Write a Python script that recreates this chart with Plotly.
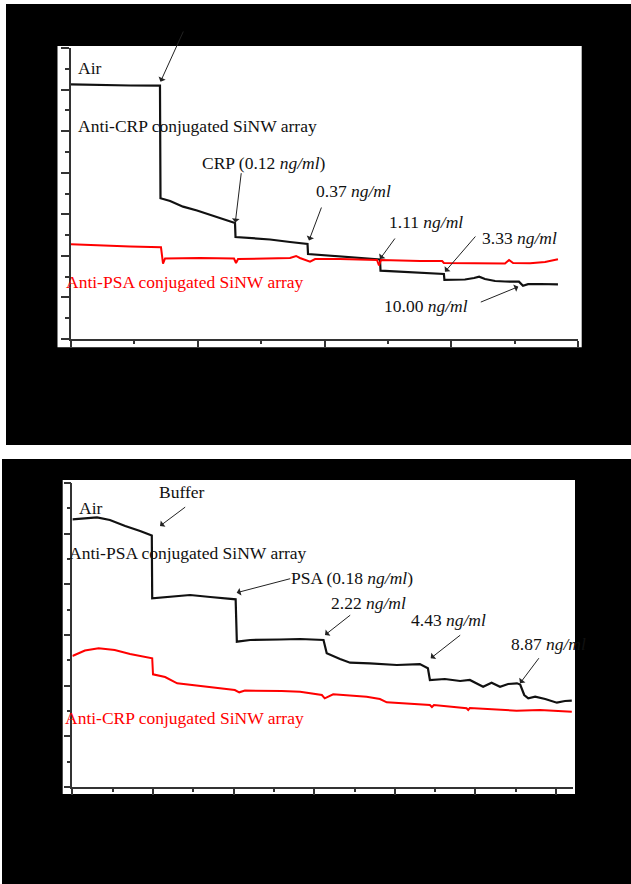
import plotly.graph_objects as go

# ---------------- DATA ----------------
# Top panel: CRP detection (time in s, response in a.u.)
crp_time = [0, 114, 233, 351, 353, 391, 442, 497, 548, 596, 647, 649, 706, 785, 864, 933, 935,
            1022, 1101, 1160, 1219, 1221, 1298, 1377, 1471, 1473, 1554, 1590, 1610, 1633, 1673,
            1712, 1767, 1783, 1803, 1850, 1921]
crp_antiCRP = [6.127, 6.110, 6.098, 6.093, 3.385, 3.320, 3.183, 3.091, 2.983, 2.887, 2.791, 2.454,
               2.430, 2.394, 2.333, 2.285, 2.045, 2.009, 1.973, 1.949, 1.912, 1.643, 1.624, 1.600,
               1.564, 1.424, 1.431, 1.467, 1.499, 1.443, 1.395, 1.383, 1.378, 1.282, 1.318, 1.323,
               1.316]
crp_time_ref = [0, 114, 233, 355, 359, 363, 371, 509, 643, 651, 659, 746, 864, 888, 903, 943, 963,
                1061, 1140, 1207, 1215, 1223, 1377, 1464, 1471, 1614, 1712, 1728, 1744, 1811, 1870,
                1921]
crp_antiPSA = [2.278, 2.249, 2.225, 2.206, 1.941, 1.816, 1.937, 1.949, 1.937, 1.828, 1.924, 1.937,
               1.949, 1.997, 1.949, 1.860, 1.924, 1.924, 1.912, 1.900, 1.768, 1.900, 1.876, 1.876,
               1.828, 1.816, 1.816, 1.900, 1.828, 1.821, 1.852, 1.917]

# Bottom panel: PSA detection
psa_time = [0, 31, 61, 93, 131, 168, 193, 197, 198, 230, 292, 342, 379, 405, 408, 441, 515, 565,
            623, 631, 664, 689, 738, 805, 862, 882, 887, 924, 962, 986, 1019, 1040, 1061, 1081,
            1103, 1111, 1121, 1131, 1148, 1173, 1202, 1222, 1239]
psa_antiPSA = [5.283, 5.309, 5.323, 5.269, 5.151, 5.052, 4.973, 4.963, 3.724, 3.750, 3.789, 3.750,
               3.730, 3.704, 2.868, 2.901, 2.911, 2.921, 2.901, 2.639, 2.526, 2.453, 2.441, 2.408,
               2.427, 2.343, 2.112, 2.132, 2.092, 2.112, 1.979, 2.058, 1.979, 2.033, 2.047, 2.023,
               1.816, 1.751, 1.782, 1.737, 1.664, 1.697, 1.703]
psa_time_ref = [0, 31, 65, 105, 143, 198, 200, 230, 260, 318, 359, 403, 414, 428, 519, 565, 619,
                626, 647, 730, 763, 780, 887, 892, 897, 978, 982, 986, 1102, 1160, 1239]
psa_antiCRP = [2.585, 2.694, 2.737, 2.704, 2.625, 2.540, 2.224, 2.171, 2.047, 1.993, 1.948, 1.914,
               1.869, 1.904, 1.895, 1.881, 1.816, 1.751, 1.830, 1.782, 1.737, 1.672, 1.618, 1.579,
               1.618, 1.553, 1.520, 1.559, 1.506, 1.520, 1.486]

FONT = "Liberation Serif, Times New Roman, serif"
W, H = 631, 884


def P(px, py):
    return px / W, 1 - py / H


fig = go.Figure()
fig.add_trace(go.Scatter(x=crp_time, y=crp_antiCRP, mode="lines",
                         line=dict(color="#111111", width=2.2), xaxis="x", yaxis="y"))
fig.add_trace(go.Scatter(x=crp_time_ref, y=crp_antiPSA, mode="lines",
                         line=dict(color="#ff0000", width=2), xaxis="x", yaxis="y"))
fig.add_trace(go.Scatter(x=psa_time, y=psa_antiPSA, mode="lines",
                         line=dict(color="#111111", width=2.2), xaxis="x2", yaxis="y2"))
fig.add_trace(go.Scatter(x=psa_time_ref, y=psa_antiCRP, mode="lines",
                         line=dict(color="#ff0000", width=2), xaxis="x2", yaxis="y2"))

AX = dict(showline=True, linecolor="#333333", linewidth=1.5, ticks="outside", tickcolor="#333333",
          tickwidth=1.5, showgrid=False, zeroline=False, showticklabels=False, fixedrange=True)

fig.update_layout(
    width=W, height=H, margin=dict(l=0, r=0, t=0, b=0), showlegend=False,
    paper_bgcolor="white", plot_bgcolor="white",
    xaxis=dict(AX, domain=[71 / W, 578 / W], range=[0, 2000], tick0=0, dtick=500, ticklen=6,
               minor=dict(dtick=250, ticks="outside", ticklen=3.5, tickcolor="#333333", tickwidth=1.5),
               anchor="y"),
    yaxis=dict(AX, domain=[1 - 339 / H, 1 - 48 / H], range=[0, 7], tick0=0, dtick=1, ticklen=8,
               minor=dict(dtick=0.5, ticks="outside", ticklen=4, tickcolor="#333333", tickwidth=1.5),
               anchor="x"),
    xaxis2=dict(AX, domain=[72.4 / W, 573 / W], range=[0, 1242], tick0=0, dtick=200, ticklen=6,
                minor=dict(dtick=100, ticks="outside", ticklen=3.5, tickcolor="#333333", tickwidth=1.5),
                anchor="y2"),
    yaxis2=dict(AX, domain=[1 - 787 / H, 1 - 483 / H], range=[0, 6], tick0=0, dtick=1, ticklen=7,
                minor=dict(dtick=0.5, ticks="outside", ticklen=4, tickcolor="#333333", tickwidth=1.5),
                anchor="x2"),
)

# Background: black panels with white plot boxes
shapes = []
for (x0, y0, x1, y1, c) in [(6, 4, 631, 445, "black"), (2, 459, 631, 884, "black"),
                            (57.5, 46, 581.7, 347.3, "white"), (62.7, 480, 575, 794, "white")]:
    a0, b0 = P(x0, y0)
    a1, b1 = P(x1, y1)
    shapes.append(dict(type="rect", xref="paper", yref="paper", x0=a0, x1=a1, y0=b1, y1=b0,
                       fillcolor=c, line=dict(width=0), layer="below"))
fig.update_layout(shapes=shapes)

NG = "<i>ng/ml</i>"
texts = [
    # top panel
    ("Buffer", 186, 18, "black"),
    ("Air", 90, 68, "#111111"),
    ("Anti-CRP conjugated SiNW array", 197, 126, "#111111"),
    ("CRP (0.12 " + NG + ")", 264, 163, "#111111"),
    ("0.37 " + NG, 353, 191, "#111111"),
    ("1.11 " + NG, 426, 222, "#111111"),
    ("3.33 " + NG, 519, 238, "#111111"),
    ("10.00 " + NG, 426, 306, "#111111"),
    ("Anti-PSA conjugated SiNW array", 184.5, 282, "#ff0000"),
    # bottom panel
    ("Air", 91, 508, "#111111"),
    ("Buffer", 182, 492, "#111111"),
    ("Anti-PSA conjugated SiNW array", 188, 553, "#111111"),
    ("PSA (0.18 " + NG + ")", 352, 578, "#111111"),
    ("2.22 " + NG, 368, 603, "#111111"),
    ("4.43 " + NG, 448, 620, "#111111"),
    ("8.87 " + NG, 548, 644, "#111111"),
    ("Anti-CRP conjugated SiNW array", 184, 718, "#ff0000"),
]
annotations = []
for t, px, py, c in texts:
    x, y = P(px, py)
    annotations.append(dict(text=t, x=x, y=y, xref="paper", yref="paper", showarrow=False,
                            xanchor="center", yanchor="middle",
                            font=dict(family=FONT, size=17.5, color=c)))

# arrows: (tail px, tail py, head px, head py)
arrows = [
    (184, 30, 160.5, 81.7),
    (241.4, 171.7, 235.3, 222.5),
    (322, 206, 309, 240.5),
    (396, 237, 380, 259),
    (476.7, 235, 445, 271.7),
    (479.3, 302.7, 518.3, 286.7),
    (186.7, 506, 160, 526),
    (291.7, 578.3, 236.7, 592.7),
    (351.7, 614, 325, 635),
    (461.7, 634, 430.7, 658.3),
    (540, 656.7, 520, 683.3),
]
for tx, ty, hx, hy in arrows:
    x, y = P(hx, hy)
    annotations.append(dict(text="", x=x, y=y, xref="paper", yref="paper", showarrow=True,
                            ax=tx - hx, ay=ty - hy, axref="pixel", ayref="pixel",
                            arrowhead=1, arrowsize=1.3, arrowwidth=1, arrowcolor="#222222"))
fig.update_layout(annotations=annotations)

fig.write_html("out.html", config={"displayModeBar": False},
               post_script="document.body.style.margin='0';document.body.style.overflow='hidden';")
